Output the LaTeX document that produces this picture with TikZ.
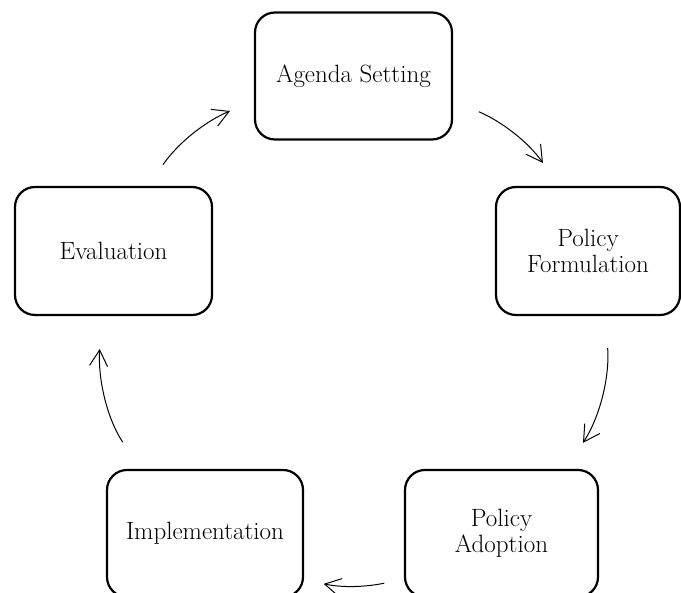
\documentclass[tikz,border=0pt]{standalone}
\usetikzlibrary{arrows.meta}
\begin{document}
\begin{tikzpicture}[x=1pt,y=1pt,
	buoc/.style={draw,line width=2.2pt,rounded corners=20pt,align=center,minimum width=197pt,minimum height=127pt,font=\fontsize{25}{26}\selectfont},
	mui/.style={line width=1pt,-{Straight Barb[length=16pt,width=18pt]}}]%CHU TRINH CHINH SACH
	\clip (0,0) rectangle (681,593);
	\node[buoc] (agenda) at (353.5,517) {Agenda Setting};
	\node[buoc,minimum width=184pt,minimum height=128pt] (formul) at (588,342) {Policy\\Formulation};
	\node[buoc,minimum width=193pt] (adopt) at (501.5,59.5) {Policy\\Adoption};
	\node[buoc,minimum width=196pt] (impl) at (205,59.5) {Implementation};
	\node[buoc,minimum height=128pt] (eval) at (113.5,342) {Evaluation};
	\draw[mui,shorten <=28pt,shorten >=28pt] (agenda.-14) to[out=-23,in=125] (formul.114);
	\draw[mui,shorten <=32pt,shorten >=31pt] (formul.-75) to[out=-86,in=57] (adopt.45);
	\draw[mui,shorten <=20pt,shorten >=20pt] (adopt.205) to[out=-168,in=-12] (impl.-25);
	\draw[mui,shorten <=32pt,shorten >=33pt] (impl.135) to[out=123.5,in=266] (eval.-100);
	\draw[mui,shorten <=26pt,shorten >=26pt] (eval.62) to[out=55,in=203] (agenda.194);
\end{tikzpicture}
\end{document}
